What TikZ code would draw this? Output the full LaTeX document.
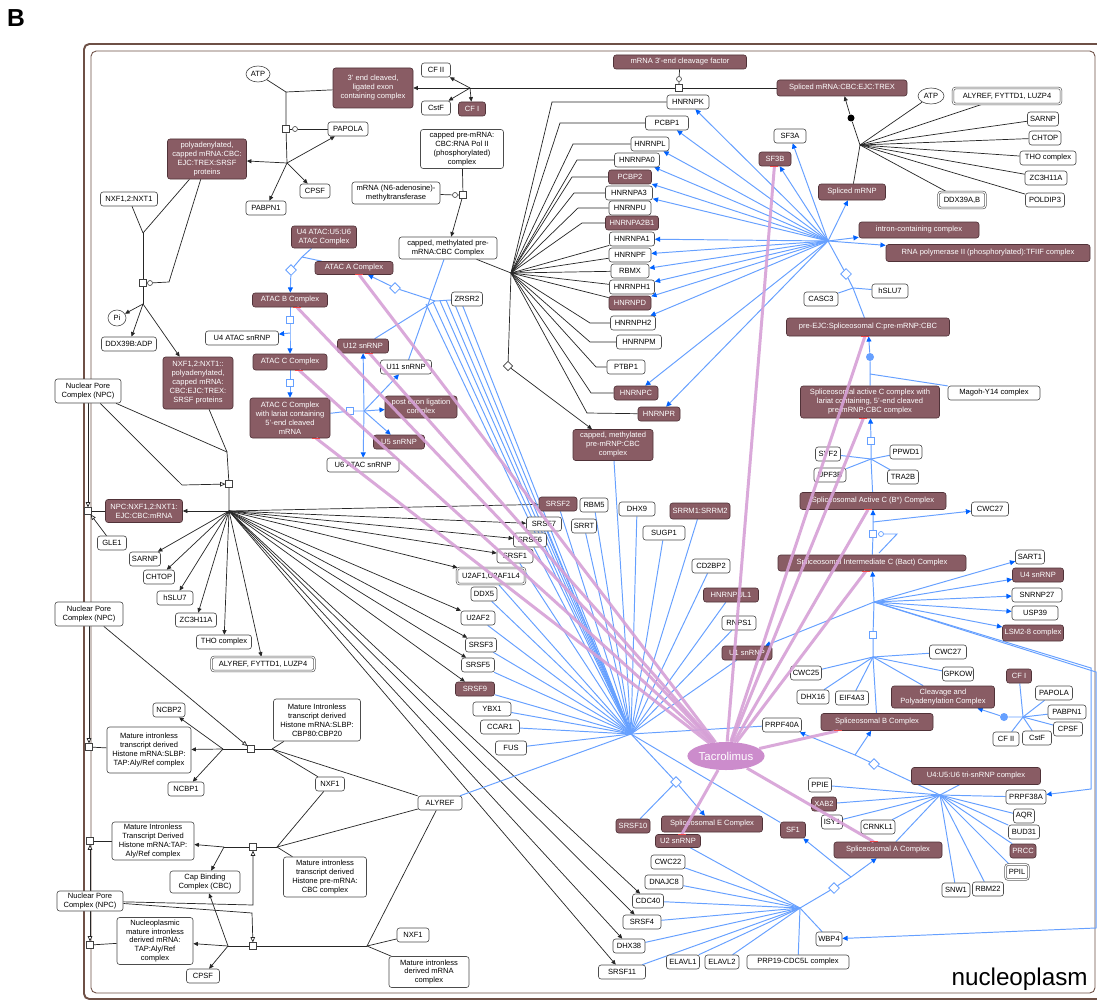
\documentclass[tikz,border=0pt]{standalone}
\usepackage{fontspec}
\setmainfont{Liberation Sans}
\usetikzlibrary{arrows.meta,shapes.geometric}
\definecolor{brF}{RGB}{137,92,100}
\definecolor{brD}{RGB}{80,50,56}
\definecolor{lb}{RGB}{102,160,255}
\definecolor{ab}{RGB}{0,98,255}
\definecolor{pk}{RGB}{214,160,214}
\definecolor{tacF}{RGB}{204,140,204}
\definecolor{comp}{RGB}{110,80,70}
\definecolor{tickR}{RGB}{235,70,70}
\pgfdeclarelayer{bg}
\pgfdeclarelayer{edges}
\pgfdeclarelayer{fg}
\pgfdeclarelayer{top}
\pgfsetlayers{bg,edges,main,fg,top}
\tikzset{
  base/.style={font=\fontsize{4.3}{5.1}\selectfont, inner sep=0.6pt, align=center, rounded corners=1.5pt, line width=0.35pt, minimum height=0.28cm},
  wb/.style={base, draw=black!70, fill=white, text=black, minimum width=#1*0.02cm},
  bb/.style={base, draw=brD, fill=brF, text=white, minimum width=#1*0.02cm},
  db/.style={base, draw=black!70, fill=white, text=black, double=white, double distance=0.6pt, minimum width=#1*0.02cm},
  ht/.style={minimum height=#1*0.02cm},
  ell/.style={ellipse, draw=black!70, fill=white, line width=0.35pt, font=\fontsize{4.3}{5.1}\selectfont, inner sep=0pt, minimum width=#1*0.02cm, minimum height=0.32cm},
  sqn/.style={rectangle, draw=black!75, fill=white, minimum size=0.13cm, inner sep=0pt, line width=0.35pt},
  bsq/.style={rectangle, draw=lb, fill=white, minimum size=0.15cm, inner sep=0pt, line width=0.45pt},
  bdm/.style={bsq, rotate=45},
  kdm/.style={sqn, rotate=45},
  cir/.style={circle, draw=black!75, fill=white, minimum size=0.1cm, inner sep=0pt, line width=0.35pt},
  kl/.style={draw=black!85, line width=0.4pt},
  ka/.style={kl, -{Triangle[length=2.6pt,width=2.3pt]}},
  ko/.style={kl, -{Triangle[open,length=3pt,width=2.6pt,fill=white]}},
  bl/.style={draw=lb, line width=0.55pt},
  ba/.style={bl, -{Triangle[length=3pt,width=2.8pt,color=ab]}},
  pl/.style={draw=pk, line width=1.7pt, opacity=0.9},
  rtick/.style={draw=tickR, line width=0.7pt},
}
\begin{document}
\begin{tikzpicture}[x=0.02cm,y=-0.02cm]
\useasboundingbox (0,0) rectangle (1097,1000);
\begin{pgfonlayer}{bg}
\fill[white] (0,0) rectangle (1097,1000);
\draw[comp, line width=1.1pt, rounded corners=3pt] (84,44) rectangle (1140,999);
\draw[comp, line width=0.5pt, rounded corners=3pt] (91,51) rectangle (1095,993);
\end{pgfonlayer}

\node[font=\fontsize{14}{14}\selectfont\bfseries, inner sep=0] (lblB) at (16,18) {B};
\node[font=\fontsize{13.8}{14}\selectfont, anchor=base east, inner sep=0] (lblN) at (1088,985) {nucleoplasm};

% ---------- top left ----------
\node[ell=24] (atp1) at (258,74) {ATP};
\node[bb=80,ht=40] (cleaved) at (373,88) {3' end cleaved,\\ligated exon\\containing complex};
\node[wb=40] (papola1) at (348,129) {PAPOLA};
\node[bb=79,ht=40] (polyA) at (207,159) {polyadenylated,\\capped mRNA:CBC:\\EJC:TREX:SRSF\\proteins};
\node[wb=30] (cpsf1) at (315,191) {CPSF};
\node[wb=40] (pabpn1a) at (266,208) {PABPN1};
\node[wb=57] (nxfnxt) at (129,199) {NXF1,2:NXT1};
\node[ell=18] (pi) at (117,318) {Pi};
\node[wb=55] (ddx39b) at (129,344) {DDX39B:ADP};
\node[bb=70,ht=52] (nxfpoly) at (198,383) {NXF1,2:NXT1::\\polyadenylated,\\capped mRNA:\\CBC:EJC:TREX:\\SRSF proteins};
\node[sqn] (s1) at (286,129) {};
\node[cir] (c1) at (295,129) {};
\coordinate (j1) at (286,92);
\coordinate (h1) at (287,163);
\coordinate (j2) at (143,233);
\node[sqn] (s2) at (143,283) {};
\node[cir] (c2) at (150,283) {};
\coordinate (h2) at (143,304);
\coordinate (k2) at (169,282);

% ---------- NPC ----------
\node[wb=66,ht=24] (npc1) at (88,391) {Nuclear Pore\\Complex (NPC)};
\coordinate (j3) at (227,452);
\coordinate (k3) at (182,485);
\node[sqn] (s3) at (229,484) {};
\coordinate (hN) at (229,511);
\node[bb=77,ht=23] (npcm) at (144,511) {NPC:NXF1,2:NXT1:\\EJC:CBC:mRNA};
\node[sqn] (sL1) at (88,511) {};
\node[wb=29] (gle1) at (112,543) {GLE1};
\node[wb=31] (sarnp1) at (145,559) {SARNP};
\node[wb=31] (chtop1) at (159,577) {CHTOP};
\node[wb=36] (hslu7a) at (175,598) {hSLU7};
\node[wb=41] (zc3h1) at (196,620) {ZC3H11A};
\node[wb=55] (tho1) at (224,642) {THO complex};
\node[db=103] (aly1) at (263,664) {ALYREF, FYTTD1, LUZP4};

% ---------- bottom left ----------
\node[wb=68,ht=24] (npc2) at (89,614) {Nuclear Pore\\Complex (NPC)};
\node[wb=32] (ncbp2) at (169,710) {NCBP2};
\node[wb=84,ht=46] (histTAP) at (149,750) {Mature intronless\\transcript derived\\Histone mRNA:SLBP:\\TAP:Aly/Ref complex};
\node[wb=36] (ncbp1) at (186,789) {NCBP1};
\node[wb=87,ht=42] (histSLBP) at (317,720) {Mature Intronless\\transcript derived\\Histone mRNA:SLBP:\\CBP80:CBP20};
\node[wb=29] (nxf1a) at (330,784) {NXF1};
\node[sqn] (sB1) at (251,749) {};
\coordinate (jB1) at (272,749);
\coordinate (jB1L) at (223,749);
\node[sqn] (sL2) at (89,747) {};
\node[wb=82,ht=38] (histTAP2) at (153,841) {Mature Intronless\\Transcript Derived\\Histone mRNA:TAP:\\Aly/Ref complex};
\node[wb=70,ht=22] (cbc) at (205,882) {Cap Binding\\Complex (CBC)};
\node[wb=83,ht=40] (histPre) at (325,877) {Mature intronless\\transcript derived\\Histone pre-mRNA:\\CBC complex};
\node[sqn] (sB2) at (253,847) {};
\coordinate (jB2) at (277,847);
\coordinate (jB2L) at (224,847);
\node[sqn] (sL3) at (90,841) {};
\node[wb=66,ht=20] (npc3) at (90,901) {Nuclear Pore\\Complex (NPC)};
\coordinate (k4) at (253,905);
\coordinate (k5) at (252,913);
\node[wb=76,ht=47] (nucleo) at (155,941) {Nucleoplasmic\\mature intronless\\derived mRNA:\\TAP:Aly/Ref\\complex};
\node[sqn] (sB3) at (253,946) {};
\coordinate (jB3L) at (228,946);
\coordinate (jB3) at (367,946);
\node[sqn] (sL4) at (90,945) {};
\node[wb=33] (cpsf3) at (203,976) {CPSF};
\node[wb=44] (alyref) at (440,803) {ALYREF};
\node[wb=32] (nxf1b) at (413,935) {NXF1};
\node[wb=80,ht=31] (matder) at (429,972) {Mature intronless\\derived mRNA\\complex};

% ---------- top middle ----------
\node[wb=29] (cfii1) at (436,70) {CF II};
\node[wb=29] (cstf1) at (436,108) {CstF};
\node[bb=27] (cfi1) at (472,109) {CF I};
\coordinate (hCF) at (470,88);
\node[bb=133] (cleavF) at (680,62) {mRNA 3'-end cleavage factor};
\node[cir] (cT) at (679,79) {};
\node[sqn] (sT) at (679,88) {};
\node[bb=130,ht=16] (splTREX) at (842,88) {Spliced mRNA:CBC:EJC:TREX};
\node[wb=83,ht=39] (capPol) at (462,149) {capped pre-mRNA:\\CBC:RNA Pol II\\(phosphorylated)\\complex};
\node[wb=88,ht=22] (mtase) at (396,193) {mRNA (N6-adenosine)-\\methyltransferase};
\node[sqn] (sM) at (463,195) {};
\node[cir] (cM) at (455,195) {};
\node[wb=98,ht=22] (capMeth) at (448,248) {capped, methylated pre-\\mRNA:CBC Complex};
\coordinate (hH) at (511,273);
\node[kdm] (dH) at (508,366) {};
\node[bb=80,ht=31] (capMethP) at (613,445) {capped, methylated\\pre-mRNP:CBC\\complex};

\node[wb=42] (hnrnpk) at (688,102) {HNRNPK};
\node[wb=43] (pcbp1) at (667,123) {PCBP1};
\node[wb=38] (hnrnpl) at (650,144) {HNRNPL};
\node[wb=45] (hnrnpa0) at (637,160) {HNRNPA0};
\node[bb=43] (pcbp2) at (630,177) {PCBP2};
\node[wb=47] (hnrnpa3) at (629,193) {HNRNPA3};
\node[wb=42] (hnrnpu) at (630,208) {HNRNPU};
\node[bb=53] (hnrnpa2b1) at (632,223) {HNRNPA2B1};
\node[wb=45] (hnrnpa1) at (632,239) {HNRNPA1};
\node[wb=42] (hnrnpf) at (630,255) {HNRNPF};
\node[wb=38] (rbmx) at (630,271) {RBMX};
\node[wb=45] (hnrnph1) at (632,287) {HNRNPH1};
\node[bb=42] (hnrnpd) at (630,303) {HNRNPD};
\node[wb=45] (hnrnph2) at (633,323) {HNRNPH2};
\node[wb=45] (hnrnpm) at (639,342) {HNRNPM};
\node[wb=38] (ptbp1) at (626,367) {PTBP1};
\node[bb=44] (hnrnpc) at (636,393) {HNRNPC};
\node[bb=42] (hnrnpr) at (659,414) {HNRNPR};

% ---------- ATAC ----------
\node[bb=65,ht=22] (u4atac) at (324,237) {U4 ATAC:U5:U6\\ATAC Complex};
\node[bb=78,ht=13] (atacA) at (354,268) {ATAC A Complex};
\node[bb=75] (atacB) at (290,300) {ATAC B Complex};
\node[wb=73] (u4atacsn) at (242,338) {U4 ATAC snRNP};
\node[bb=74,ht=16] (atacC) at (290,362) {ATAC C Complex};
\node[bb=80,ht=40] (lariat) at (290,418) {ATAC C Complex\\with lariat containing\\5'-end cleaved\\mRNA};
\node[bb=51] (u12) at (363,346) {U12 snRNP};
\node[wb=51] (u11) at (406,367) {U11 snRNP};
\node[bb=72,ht=22] (postexon) at (421,407) {post exon ligation\\complex};
\node[bb=51] (u5) at (399,442) {U5 snRNP};
\node[wb=72] (u6atac) at (363,465) {U6 ATAC snRNP};
\node[wb=31] (zrsr2) at (467,299) {ZRSR2};
\coordinate (hZ) at (435,301);
\node[bdm] (dZ) at (395,288) {};
\coordinate (jA1) at (302,257);
\node[bdm] (dA1) at (291,270) {};
\node[bsq] (sA2) at (290,320) {};
\coordinate (jA2) at (290,333);
\node[bsq] (sA3) at (290,383) {};
\node[bsq] (sA4) at (350,411) {};
\coordinate (jU) at (364,411);

% ---------- SR proteins ----------
\node[bb=38] (srsf2) at (558,504) {SRSF2};
\node[wb=28] (rbm5) at (594,505) {RBM5};
\node[wb=35] (srsf7) at (544,524) {SRSF7};
\node[wb=25] (srrt) at (584,526) {SRRT};
\node[wb=33] (srsf6) at (530,540) {SRSF6};
\node[wb=36] (srsf1) at (515,556) {SRSF1};
\node[db=68,ht=16] (u2af1) at (491,576) {U2AF1,U2AF1L4};
\node[wb=26] (ddx5) at (484,594) {DDX5};
\node[wb=34] (u2af2) at (478,618) {U2AF2};
\node[wb=31] (srsf3) at (481,645) {SRSF3};
\node[wb=33] (srsf5) at (478,665) {SRSF5};
\node[bb=39] (srsf9) at (475,689) {SRSF9};
\node[wb=38] (ybx1) at (492,709) {YBX1};
\node[wb=39] (ccar1) at (500,727) {CCAR1};
\node[wb=31] (fus) at (511,748) {FUS};
\node[wb=36] (dhx9) at (637,509) {DHX9};
\node[bb=60,ht=16] (srrm1) at (700,511) {SRRM1:SRRM2};
\node[wb=42] (sugp1) at (664,533) {SUGP1};
\node[wb=38] (cd2bp2) at (711,566) {CD2BP2};
\node[bb=55] (hnrnpul1) at (731,595) {HNRNPUL1};
\node[wb=34] (rnps1) at (739,623) {RNPS1};
\node[bb=50] (u1snrnp) at (747,653) {U1 snRNP};
\node[wb=39] (prpf40a) at (782,725) {PRPF40A};
\coordinate (bh) at (631,734);

% ---------- bottom middle ----------
\node[bb=101,ht=16] (spliceE) at (712,824) {Spliceosomal E Complex};
\node[bb=45,ht=13] (u2snrnp) at (678,841) {U2 snRNP};
\node[bb=34] (srsf10) at (633,826) {SRSF10};
\node[bdm] (dEc) at (676,782) {};
\node[wb=34] (cwc22) at (668,862) {CWC22};
\node[wb=38] (dnajc8) at (664,882) {DNAJC8};
\node[wb=31] (cdc40) at (648,901) {CDC40};
\node[wb=38] (srsf4) at (642,922) {SRSF4};
\node[wb=32] (dhx38) at (629,946) {DHX38};
\node[wb=47] (srsf11) at (622,972) {SRSF11};
\node[wb=33] (elavl1) at (683,962) {ELAVL1};
\node[wb=34] (elavl2) at (722,962) {ELAVL2};

% ---------- right top ----------
\node[ell=26] (atp2) at (931,96) {ATP};
\node[db=108,ht=16] (aly3) at (1007,96) {ALYREF, FYTTD1, LUZP4};
\node[wb=31] (sarnp2) at (1043,119) {SARNP};
\node[wb=32] (chtop2) at (1045,138) {CHTOP};
\node[wb=56] (tho2) at (1048,158) {THO complex};
\node[wb=42] (zc3h2) at (1046,178) {ZC3H11A};
\node[wb=39] (poldip3) at (1045,200) {POLDIP3};
\node[db=47,ht=16] (ddx39ab) at (962,200) {DDX39A,B};
\node[bb=67,ht=16] (splmRNP) at (852,192) {Spliced mRNP};
\coordinate (hR) at (860,145);
\node[circle, fill=black, minimum size=0.14cm, inner sep=0pt] (dotR) at (851,118) {};
\node[wb=32] (sf3a) at (790,136) {SF3A};
\node[bb=32] (sf3b) at (775,159) {SF3B};
\node[bb=120,ht=16] (intron) at (919,230) {intron-containing complex};
\node[bb=204,ht=17] (rnapol) at (988,253) {RNA polymerase II (phosphorylated):TFIIF complex};
\coordinate (hB1) at (828,241);
\node[bdm] (dE) at (846,274) {};
\coordinate (jE) at (853,288);
\node[wb=34] (casc3) at (821,299) {CASC3};
\node[wb=36] (hslu7b) at (890,291) {hSLU7};
\node[bb=163,ht=18] (preEJC) at (868,327) {pre-EJC:Spliceosomal C:pre-mRNP:CBC};

% ---------- right middle ----------
\node[circle, fill=lb, minimum size=0.16cm, inner sep=0pt] (bdot1) at (870,357) {};
\coordinate (jM) at (870,374);
\node[wb=92] (magoh) at (994,393) {Magoh-Y14 complex};
\node[bb=139,ht=32] (activeCl) at (870,402) {Spliceosomal active C complex with\\lariat containing, 5'-end cleaved\\pre-mRNP:CBC complex};
\node[bsq] (sAC) at (871,441) {};
\coordinate (jS) at (871,459);
\node[wb=25] (syf2) at (828,454) {SYF2};
\node[wb=32] (ppwd1) at (906,452) {PPWD1};
\node[wb=32] (upf3b) at (830,475) {UPF3B};
\node[wb=31] (tra2b) at (903,477) {TRA2B};
\node[bb=146,ht=17] (activeB) at (873,501) {Spliceosomal Active C (B*) Complex};
\node[wb=37] (cwc27a) at (990,509) {CWC27};
\coordinate (jBa) at (873,522);
\node[bsq] (sBa) at (873,534) {};
\node[circle, draw=lb, fill=white, minimum size=0.1cm, inner sep=0pt, line width=0.4pt] (cBa) at (881,534) {};
\coordinate (kBa1) at (897,534);
\coordinate (kBa2) at (879,553);
\node[bb=188,ht=16] (bact) at (872,563) {Spliceosomal Intermediate C (Bact) Complex};
\node[wb=29] (sart1) at (1030,557) {SART1};
\node[bb=51] (u4snrnp) at (1038,575) {U4 snRNP};
\node[wb=50] (snrnp27) at (1037,595) {SNRNP27};
\node[wb=46] (usp39) at (1035,613) {USP39};
\node[bb=61,ht=16] (lsm) at (1033,633) {LSM2-8 complex};
\coordinate (hB3) at (874,602);
\node[bsq] (sBb) at (873,635) {};
\coordinate (hB2) at (873,657);
\coordinate (kR1) at (1091,668);
\coordinate (kR1b) at (1091,789);
\coordinate (kR2) at (1096,672);
\coordinate (kR2b) at (1096,928);
\node[wb=37] (cwc27b) at (948,652) {CWC27};
\node[wb=31] (cwc25) at (806,673) {CWC25};
\node[wb=29] (gpkow) at (958,674) {GPKOW};
\node[wb=32] (dhx16) at (813,697) {DHX16};
\node[wb=33] (eif4a3) at (852,698) {EIF4A3};
\node[bb=103,ht=22] (cleavPoly) at (943,697) {Cleavage and\\Polyadenylation Complex};
\node[bb=25] (cfi2) at (1019,676) {CF I};
\node[wb=37] (papola2) at (1054,693) {PAPOLA};
\node[wb=38] (pabpn1b) at (1067,712) {PABPN1};
\node[wb=29] (cpsf2) at (1068,729) {CPSF};
\node[wb=26] (cfii2) at (1006,739) {CF II};
\node[wb=29] (cstf2) at (1037,738) {CstF};
\coordinate (hCP) at (1023,717);
\node[circle, fill=lb, minimum size=0.16cm, inner sep=0pt] (bdot2) at (1004,717) {};
\node[bb=112,ht=17] (spliceB) at (877,722) {Spliceosomal B Complex};

% ---------- right bottom ----------
\node[bb=129,ht=17] (tri) at (976,776) {U4:U5:U6 tri-snRNP complex};
\coordinate (hT) at (940,795);
\node[bdm] (dT) at (874,764) {};
\coordinate (jT) at (855,755);
\node[wb=23] (ppie) at (820,785) {PPIE};
\node[bb=25] (xab2) at (824,804) {XAB2};
\node[wb=21] (isy1) at (832,822) {ISY1};
\node[wb=34] (crnkl1) at (878,827) {CRNKL1};
\node[bb=25,ht=16] (sf1) at (793,830) {SF1};
\node[bb=108,ht=16] (spliceA) at (888,850) {Spliceosomal A Complex};
\node[wb=40] (prpf38a) at (1026,797) {PRPF38A};
\node[wb=21] (aqr) at (1024,816) {AQR};
\node[wb=31] (bud31) at (1024,832) {BUD31};
\node[bb=26] (prcc) at (1023,851) {PRCC};
\node[db=23,ht=15] (ppil) at (1017,872) {PPIL};
\node[wb=31] (rbm22) at (988,889) {RBM22};
\node[wb=28] (snw1) at (956,890) {SNW1};
\node[wb=26] (wbp4) at (829,939) {WBP4};
\node[wb=102] (prp19) at (798,962) {PRP19-CDC5L complex};
\coordinate (hE) at (800,908);
\node[bdm] (dA) at (834,888) {};
\coordinate (jA) at (851,877);

\begin{pgfonlayer}{top}
\node[ellipse, fill=tacF, text=white, minimum width=68*0.02cm, minimum height=28*0.02cm, inner sep=0pt, font=\fontsize{6.5}{7}\selectfont] (tac) at (726,756) {Tacrolimus};
\end{pgfonlayer}

% ================= edges =================
\begin{pgfonlayer}{edges}
% top left
\draw[kl] (atp1) -- (j1);
\draw[kl] (cleaved) -- (j1);
\draw[kl] (j1) -- (s1) -- (h1);
\draw[kl] (papola1) -- (c1) -- (s1);
\draw[ka] (h1) -- (polyA);
\draw[ka] (h1) -- (papola1);
\draw[ka] (h1) -- (cpsf1);
\draw[ka] (h1) -- (pabpn1a);
\draw[kl] (nxfnxt) -- (j2);
\draw[kl] (polyA) -- (j2);
\draw[kl] (j2) -- (s2) -- (h2);
\draw[kl] (polyA) -- (k2) -- (c2);
\draw[ka] (h2) -- (pi);
\draw[ka] (h2) -- (ddx39b);
\draw[ka] (h2) -- (nxfpoly);
% NPC
\draw[kl] (nxfpoly) -- (j3);
\draw[kl] (npc1) -- (j3);
\draw[kl] (j3) -- (s3) -- (hN);
\draw[ko] (npc1) -- (k3) -- (s3);
\draw[ka] (hN) -- (npcm);
\draw[kl] (npcm) -- (sL1);
\draw[ko] (npc1) -- (sL1);
\draw[ko] (gle1) -- (sL1);
\foreach \t in {sarnp1,chtop1,hslu7a,zc3h1,tho1,aly1,srsf2,srsf7,srsf6,srsf1,u2af1,u2af2,srsf3,srsf5,srsf9,cdc40,srsf4,dhx38,srsf11}
  \draw[ka] (hN) -- (\t);
% bottom left
\draw[ko] (npc2) -- (sB1);
\draw[kl] (sB1) -- (jB1);
\draw[kl] (jB1) -- (histSLBP);
\draw[kl] (jB1) -- (nxf1a);
\draw[kl] (jB1) -- (alyref);
\draw[kl] (sB1) -- (jB1L);
\draw[ka] (jB1L) -- (ncbp2);
\draw[ka] (jB1L) -- (histTAP);
\draw[ka] (jB1L) -- (ncbp1);
\draw[kl] (histTAP) -- (sL2);
\draw[ko] (npc2) -- (sL2);
\draw[kl] (sB2) -- (jB2);
\draw[kl] (jB2) -- (nxf1a);
\draw[kl] (jB2) -- (alyref);
\draw[kl] (jB2) -- (histPre);
\draw[kl] (sB2) -- (jB2L);
\draw[ka] (jB2L) -- (histTAP2);
\draw[ka] (jB2L) -- (cbc);
\draw[kl] (histTAP2) -- (sL3);
\draw[ko] (npc3) -- (sL3);
\draw[ko] (npc3) -- (k4) -- (sB2);
\draw[ko] (npc3) -- (k5) -- (sB3);
\draw[kl] (sB3) -- (jB3L);
\draw[ka] (jB3L) -- (nucleo);
\draw[ka] (jB3L) -- (cbc);
\draw[ka] (jB3L) -- (cpsf3);
\draw[kl] (nucleo) -- (sL4);
\draw[ko] (npc3) -- (sL4);
\draw[kl] (sB3) -- (jB3);
\draw[kl] (jB3) -- (nxf1b);
\draw[kl] (jB3) -- (matder);
\draw[kl] (jB3) -- (alyref);
% top middle
\draw[kl] (cleavF) -- (cT) -- (sT);
\draw[kl] (splTREX) -- (sT);
\draw[kl] (sT) -- (hCF);
\draw[ka] (hCF) -- (cleaved);
\draw[ka] (hCF) -- (cfii1);
\draw[ka] (hCF) -- (cstf1);
\draw[ka] (hCF) -- (cfi1);
\draw[kl] (capPol) -- (sM);
\draw[kl] (mtase) -- (cM) -- (sM);
\draw[ka] (sM) -- (capMeth);
\draw[kl] (capMeth) -- (hH);
\draw[ka] (hH) -- (dH) -- (capMethP);
\draw[kl] (hH) -- (552,102) -- (hnrnpk);
\draw[kl] (hH) -- (560,123) -- (pcbp1);
\draw[kl] (hH) -- (573,144) -- (hnrnpl);
\draw[kl] (hH) -- (577,160) -- (hnrnpa0);
\draw[kl] (hH) -- (572,177) -- (pcbp2);
\draw[kl] (hH) -- (574,193) -- (hnrnpa3);
\draw[kl] (hH) -- (578,208) -- (hnrnpu);
\draw[kl] (hH) -- (582,223) -- (hnrnpa2b1);
\draw[kl] (hH) -- (hnrnpa1);
\draw[kl] (hH) -- (hnrnpf);
\draw[kl] (hH) -- (rbmx);
\draw[kl] (hH) -- (hnrnph1);
\draw[kl] (hH) -- (hnrnpd);
\draw[kl] (hH) -- (590,323) -- (hnrnph2);
\draw[kl] (hH) -- (590,342) -- (hnrnpm);
\draw[kl] (hH) -- (596,367) -- (ptbp1);
\draw[kl] (hH) -- (591,393) -- (hnrnpc);
\draw[kl] (hH) -- (587,413) -- (hnrnpr);
% right top black
\draw[kl] (splmRNP) -- (hR);
\draw[ka] (hR) -- (dotR) -- (splTREX);
\foreach \t in {atp2,aly3,sarnp2,chtop2,tho2,zc3h2,poldip3,ddx39ab}
  \draw[kl] (hR) -- (\t);
% blue: EJC hub
\draw[bl] (preEJC) -- (jE) -- (dE) -- (hB1);
\draw[bl] (casc3) -- (jE) -- (hslu7b);
\foreach \t in {hnrnpk,pcbp1,hnrnpl,hnrnpa0,pcbp2,hnrnpa3,hnrnpa1,hnrnpf,rbmx,hnrnph1,hnrnpd,hnrnph2,hnrnpc,hnrnpr,sf3a,sf3b,splmRNP,intron,rnapol}
  \draw[ba] (hB1) -- (\t);
\draw[ba] (activeCl) -- (jM) -- (bdot1) -- (preEJC);
\draw[bl] (magoh) -- (jM);
\draw[ba] (activeB) -- (jS) -- (sAC) -- (activeCl);
\draw[bl] (syf2) -- (jS) -- (tra2b);
\draw[bl] (upf3b) -- (jS) -- (ppwd1);
\draw[ba] (bact) -- (sBa) -- (jBa) -- (activeB);
\draw[ba] (jBa) -- (cwc27a);
\draw[bl] (cBa) -- (kBa1) -- (kBa2);
\draw[ba] (spliceB) -- (hB2) -- (sBb) -- (hB3) -- (bact);
\foreach \t in {sart1,u4snrnp,snrnp27,usp39,lsm,u1snrnp}
  \draw[ba] (hB3) -- (\t);
\draw[ba] (hB3) -- (kR1) -- (kR1b) -- (prpf38a);
\draw[ba] (hB3) -- (kR2) -- (kR2b) -- (wbp4);
\foreach \t in {cwc25,cwc27b,gpkow,dhx16,eif4a3,cleavPoly}
  \draw[bl] (hB2) -- (\t);
\draw[ba] (hCP) -- (bdot2) -- (cleavPoly);
\foreach \t in {cfi2,papola2,pabpn1b,cpsf2,cfii2,cstf2}
  \draw[bl] (hCP) -- (\t);
% tri-snRNP
\draw[ba] (hT) -- (dT) -- (jT) -- (prpf40a);
\draw[ba] (jT) -- (spliceB);
\foreach \t in {tri,ppie,xab2,isy1,crnkl1,spliceA,prpf38a,aqr,bud31,prcc,ppil,rbm22,snw1}
  \draw[bl] (hT) -- (\t);
% E hub
\draw[ba] (hE) -- (dA) -- (jA) -- (spliceA);
\draw[ba] (jA) -- (sf1);
\foreach \t in {wbp4,prp19,u2snrnp,cwc22,dnajc8,cdc40,srsf4,dhx38,srsf11,elavl1,elavl2}
  \draw[bl] (hE) -- (\t);
% big hub
\draw[ba] (bh) -- (dEc) -- (spliceE);
\draw[bl] (srsf10) -- (dEc);
\foreach \t in {srsf2,rbm5,srsf7,srrt,srsf6,srsf1,u2af1,ddx5,u2af2,srsf3,srsf5,srsf9,ybx1,ccar1,fus,alyref,dhx9,srrm1,sugp1,cd2bp2,hnrnpul1,rnps1,u1snrnp,prpf40a,capMethP,sf1}
  \draw[bl] (bh) -- (\t);
% ZRSR2 hub
\draw[ba] (hZ) -- (dZ) -- (atacA);
\draw[bl] (hZ) -- (zrsr2);
\draw[bl] (hZ) -- (u12);
\draw[bl] (capMeth) -- (u11);
\foreach \dx/\dy in {-9/3,-2/1,5/0,11/-1,18/-1,25/-2}
  \draw[bl] ([shift={(\dx,\dy)}]hZ) -- (bh);
% ATAC
\draw[bl] (u4atac) -- (jA1);
\draw[bl] (atacA) -- (jA1);
\draw[ba] (jA1) -- (dA1) -- (atacB);
\draw[ba] (atacB) -- (sA2) -- (jA2) -- (atacC);
\draw[ba] (jA2) -- (u4atacsn);
\draw[ba] (atacC) -- (sA3) -- (lariat);
\draw[bl] (lariat) -- (sA4) -- (jU);
\foreach \t in {u12,u6atac,u11,postexon,u5}
  \draw[ba] (jU) -- (\t);
\end{pgfonlayer}

% pink drug lines with red end ticks
\begin{pgfonlayer}{fg}
\foreach \t in {atacA,atacB,atacC,lariat,u12,sf3b,preEJC,activeCl,activeB,bact,spliceB,spliceA,u2snrnp}
{
  \draw[pl] (tac) -- (\t) coordinate[pos=1] (pe);
  \draw[rtick] ([xshift=-0.08cm]pe) -- ([xshift=0.08cm]pe);
}
\end{pgfonlayer}
\end{tikzpicture}
\end{document}
